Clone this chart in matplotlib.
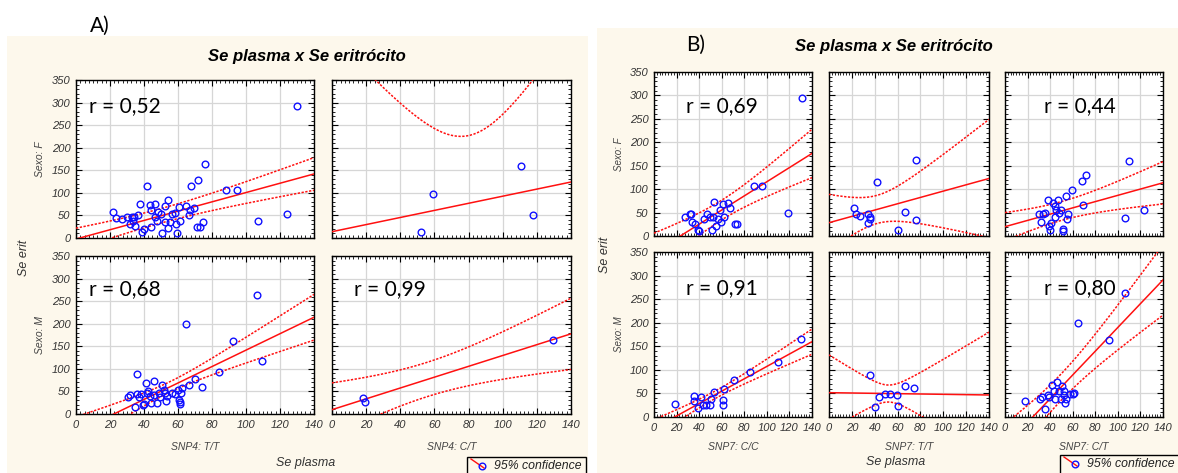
import numpy as np
import matplotlib.pyplot as plt
from matplotlib.patches import Rectangle
from matplotlib.lines import Line2D
from matplotlib.ticker import MultipleLocator

W, H = 1178, 473
cream = '#fdf8ec'

# ---- data (Se plasma, Se eritrocito) ----
# A) SNP4
a_tt_f_x = [21.8, 23.8, 27.0, 30.0, 31.6, 32.7, 33.8, 34.4, 34.9, 36.7, 37.8, 38.9, 40.0, 41.6, 43.3, 44.4, 44.4,
            46.7, 46.7, 47.8, 48.2, 50.0, 50.4, 52.2, 52.2, 54.0, 54.4, 55.5, 56.2, 58.4, 58.9, 59.6, 60.7, 61.3,
            65.0, 66.7, 67.3, 67.8, 69.3, 71.0, 71.6, 72.9, 75.0, 75.6, 88.4, 94.9, 106.9, 124.2, 129.8]
a_tt_f_y = [58.6, 44, 41.5, 46, 30, 46, 38.5, 47, 27, 50, 75, 12.6, 20, 116, 73, 62, 24,
            76, 46, 38.5, 58.6, 53, 11, 71, 35, 85, 21.5, 35, 53, 55, 31, 11, 68, 38,
            70, 50, 63, 116, 66, 24, 129, 24, 35, 163, 106, 106, 38, 54, 293.5]
a_ct_f_x = [52.0, 59.4, 111.0, 117.9]
a_ct_f_y = [14, 98, 159, 50]
a_tt_m_x = [30.7, 31.8, 34.9, 35.6, 36.0, 37.3, 38.4, 39.6, 40.0, 41.1, 41.8, 42.4, 43.3, 44.4, 45.6, 46.0, 47.8,
            48.9, 49.6, 50.4, 51.8, 52.2, 52.9, 53.3, 56.7, 58.4, 60.0, 60.7, 60.9, 61.6, 61.1, 62.2, 64.9, 66.2,
            70.2, 74.4, 84.4, 92.4, 106.4, 109.6]
a_tt_m_y = [37, 42.9, 14.8, 44, 89.6, 37, 44, 19, 22, 68.8, 46.6, 51.8, 39, 24, 43, 74, 24,
            46.6, 37, 65, 54, 46.6, 29.6, 40.7, 46.6, 44, 54, 31.8, 22, 46.6, 26.6, 57.7, 199.9, 65,
            78.5, 60.7, 94, 162.8, 262.8, 117]
a_ct_m_x = [18.2, 19.3, 129.4]
a_ct_m_y = [34.8, 27.4, 165]

# B) SNP7
b_cc_f_x = [27.7, 31.7, 32.7, 34.0, 36.7, 39.0, 40.0, 44.3, 46.7, 49.3, 51.0, 52.3, 53.0, 55.0, 56.7, 58.3, 59.3,
            60.7, 61.7, 65.7, 67.7, 71.7, 73.3, 89.0, 95.7, 118.3, 130.7]
b_cc_f_y = [41, 46, 47.5, 30.5, 24.8, 12.8, 10.6, 36, 46, 41, 12.8, 41, 71.7, 21.3, 36, 55.4, 30.5,
            67.4, 39.7, 70.3, 60.3, 24.8, 25.5, 107, 107, 49.7, 294.5]
b_tt_f_x = [21.7, 23.7, 27.0, 34.5, 35.5, 34.5, 36.2, 42.1, 60.2, 66.8, 75.7, 75.7]
b_tt_f_y = [59, 46, 43.3, 46, 41, 27, 35.5, 116, 12.8, 51, 163, 34.8]
b_ct_f_x = [30.2, 31.8, 33.4, 35.4, 37.7, 39.3, 40.0, 41.0, 42.8, 43.9, 44.6, 45.0, 46.6, 47.5, 49.2, 51.5, 51.8,
            54.0, 55.0, 55.7, 59.0, 67.9, 69.2, 71.8, 106.6, 110.2, 123.6]
b_ct_f_y = [46, 30.5, 46, 49.7, 76.6, 22, 12.8, 27, 71, 64, 41, 55, 76.6, 49.7, 55, 15, 11.4,
            86, 36, 48, 98, 117, 66, 130, 39, 159.7, 55.4]
b_cc_m_x = [19.0, 35.7, 35.7, 41.7, 39.3, 43.3, 46.0, 49.3, 50.7, 53.0, 61.0, 61.3, 62.3, 70.7, 85.0, 110.3, 130.0]
b_cc_m_y = [27.6, 44.6, 34.7, 42.4, 19, 25.5, 25.5, 25.5, 37.5, 53, 35.4, 25.5, 58.7, 77.8, 95.5, 116.7, 166]
b_tt_m_x = [35.5, 40.1, 44.0, 49.3, 53.3, 59.2, 60.5, 66.1, 74.3]
b_tt_m_y = [89, 21.2, 43, 48, 48, 46.7, 23.3, 65.8, 60.8]
b_ct_m_x = [18.0, 31.1, 32.8, 35.4, 37.7, 39.3, 41.6, 43.3, 44.3, 45.9, 47.5, 49.2, 50.8, 52.5, 52.5, 53.4, 54.0,
            57.4, 60.0, 60.7, 64.6, 91.8, 105.9]
b_ct_m_y = [34.7, 37.5, 43, 16.3, 46.7, 43, 68, 55, 39, 74, 55, 39, 65.8, 55, 46.7, 30.4, 39,
            48, 48, 51.6, 199.4, 162.7, 262.4]

# regression line (intercept, slope) and 95% band (centre, min half width, spread)
a_fits = [(-2.3, 1.03, 50, 16, 0.36), (14, 0.786, 80, 150, 5.1),
          (-40.5, 1.82, 55, 11.5, 0.58), (9.6, 1.2, 55.6, 38, 0.82)]
b_fits = [(-35.2, 1.51, 60, 21, 0.59), (28.4, 0.674, 42, 30, 1.25), (19.9, 0.669, 50, 20, 0.45),
          (-24, 1.313, 55, 8, 0.30), (51.6, -0.035, 52, 18, 1.5), (-62, 2.52, 50, 28, 0.77)]
a_r = ['r = 0,52', '', 'r = 0,68', 'r = 0,99']
b_r = ['r = 0,69', '', 'r = 0,44', 'r = 0,91', '', 'r = 0,80']
a_cols = ['SNP4: T/T', 'SNP4: C/T']
b_cols = ['SNP7: C/C', 'SNP7: T/T', 'SNP7: C/T']
rows = ['Sexo: F', 'Sexo: M']

fig = plt.figure(figsize=(W / 100, H / 100), dpi=100)
fig.patch.set_facecolor('white')


def fx(x):
    return x / W


def fy(y):
    return 1 - y / H


def add_ax(x0, x1, y0, y1):
    return fig.add_axes([fx(x0), fy(y1), (x1 - x0) / W, (y1 - y0) / H])


def draw(ax, xs, ys, fit, rtxt, rx, ry, show_x, show_y):
    b0, b1, xc, h0, k = fit
    xx = np.linspace(0, 140, 300)
    yy = b0 + b1 * xx
    hw = np.sqrt(h0 ** 2 + (k * (xx - xc)) ** 2)
    ax.plot(xx, yy, color='#ff1010', lw=1.1, zorder=3)
    ax.plot(xx, yy + hw, color='#ff1010', lw=1.1, ls=(0, (1.5, 1)), zorder=3)
    ax.plot(xx, yy - hw, color='#ff1010', lw=1.1, ls=(0, (1.5, 1)), zorder=3)
    ax.plot(xs, ys, 'o', mfc='none', mec='#1010ff', ms=4.8, mew=1.0, zorder=4)
    if rtxt:
        ax.text(rx, ry, rtxt, family='Lato', fontsize=15, ha='left', va='center', zorder=5)
    ax.set_xlim(0, 140)
    ax.set_ylim(0, 350)
    ax.xaxis.set_major_locator(MultipleLocator(20))
    ax.yaxis.set_major_locator(MultipleLocator(50))
    ax.xaxis.set_minor_locator(MultipleLocator(2.5))
    ax.yaxis.set_minor_locator(MultipleLocator(10))
    ax.grid(True, color='#d6d6d6', lw=0.9)
    ax.set_axisbelow(True)
    ax.tick_params(which='both', direction='in', top=True, right=True, colors='black',
                   labelcolor='#333333', labelsize=8, pad=4)
    ax.tick_params(which='major', length=4, width=0.8)
    ax.tick_params(which='minor', length=2, width=0.6)
    for s in ax.spines.values():
        s.set_linewidth(1.0)
    if not show_x:
        ax.set_xticklabels([])
    if not show_y:
        ax.set_yticklabels([])
    for lbl in ax.get_xticklabels() + ax.get_yticklabels():
        lbl.set_style('italic')
        lbl.set_family('Liberation Sans')


# cream panels
fig.patches.append(Rectangle((fx(7), 0), fx(588) - fx(7), fy(36), transform=fig.transFigure,
                             facecolor=cream, edgecolor='none', zorder=-10))
fig.patches.append(Rectangle((fx(597), 0), 1 - fx(597), fy(28), transform=fig.transFigure,
                             facecolor=cream, edgecolor='none', zorder=-10))

# ---- panel A ----
a_data = [(a_tt_f_x, a_tt_f_y), (a_ct_f_x, a_ct_f_y), (a_tt_m_x, a_tt_m_y), (a_ct_m_x, a_ct_m_y)]
a_rpos = [(7.8, 292), (0, 0), (7.8, 277), (12.6, 277)]
a_xs = [(76, 314), (332, 571)]
a_ys = [(80, 238), (256, 414)]
for i in range(4):
    r, c = divmod(i, 2)
    ax = add_ax(a_xs[c][0], a_xs[c][1], a_ys[r][0], a_ys[r][1])
    draw(ax, a_data[i][0], a_data[i][1], a_fits[i], a_r[i], a_rpos[i][0], a_rpos[i][1], r == 1, c == 0)

fig.text(fx(100), fy(26), 'A)', family='Lato', fontsize=15, ha='center', va='center')
fig.text(fx(307), fy(57), 'Se plasma x Se eritrócito', family='Liberation Sans', fontsize=12,
         weight='bold', style='italic', ha='center', va='center')
for r in range(2):
    fig.text(fx(40), fy((a_ys[r][0] + a_ys[r][1]) / 2), rows[r], family='Liberation Sans', fontsize=7.5,
             style='italic', color='#444444', rotation=90, ha='center', va='center')
fig.text(fx(24), fy(258), 'Se erit', family='Liberation Sans', fontsize=9, style='italic',
         color='#333333', rotation=90, ha='center', va='center')
for c in range(2):
    fig.text(fx((a_xs[c][0] + a_xs[c][1]) / 2), fy(447), a_cols[c], family='Liberation Sans', fontsize=7.5,
             style='italic', color='#444444', ha='center', va='center')
fig.text(fx(306), fy(463), 'Se plasma', family='Liberation Sans', fontsize=9, style='italic',
         color='#333333', ha='center', va='center')

# ---- panel B ----
b_data = [(b_cc_f_x, b_cc_f_y), (b_tt_f_x, b_tt_f_y), (b_ct_f_x, b_ct_f_y),
          (b_cc_m_x, b_cc_m_y), (b_tt_m_x, b_tt_m_y), (b_ct_m_x, b_ct_m_y)]
b_rpos = [(28, 277), (0, 0), (34.4, 277), (28, 274), (0, 0), (34.4, 274)]
b_xs = [(654, 812), (829, 989), (1005, 1163)]
b_ys = [(72, 236), (252, 417)]
for i in range(6):
    r, c = divmod(i, 3)
    ax = add_ax(b_xs[c][0], b_xs[c][1], b_ys[r][0], b_ys[r][1])
    draw(ax, b_data[i][0], b_data[i][1], b_fits[i], b_r[i], b_rpos[i][0], b_rpos[i][1], r == 1, c == 0)

fig.text(fx(696), fy(45), 'B)', family='Lato', fontsize=15, ha='center', va='center')
fig.text(fx(894), fy(47), 'Se plasma x Se eritrócito', family='Liberation Sans', fontsize=12,
         weight='bold', style='italic', ha='center', va='center')
for r in range(2):
    fig.text(fx(619), fy((b_ys[r][0] + b_ys[r][1]) / 2), rows[r], family='Liberation Sans', fontsize=7,
             style='italic', color='#444444', rotation=90, ha='center', va='center')
fig.text(fx(605), fy(255), 'Se erit', family='Liberation Sans', fontsize=9, style='italic',
         color='#333333', rotation=90, ha='center', va='center')
for c in range(3):
    fig.text(fx((b_xs[c][0] + b_xs[c][1]) / 2), fy(447), b_cols[c], family='Liberation Sans', fontsize=7.5,
             style='italic', color='#444444', ha='center', va='center')
fig.text(fx(896), fy(462), 'Se plasma', family='Liberation Sans', fontsize=9, style='italic',
         color='#333333', ha='center', va='center')

# ---- legends ----
for lx, rx_, ty in [(467, 586, 457), (1060, 1185, 455)]:
    fig.patches.append(Rectangle((fx(lx), fy(ty + 30)), fx(rx_) - fx(lx), fy(ty) - fy(ty + 30),
                                 transform=fig.transFigure, facecolor=cream, edgecolor='black', lw=1.0, zorder=2))
    fig.lines.append(Line2D([fx(lx + 4), fx(lx + 17)], [fy(ty + 2), fy(ty + 11)], transform=fig.transFigure,
                            color='#ff1010', lw=1.0, zorder=3))
    fig.lines.append(Line2D([fx(lx + 15)], [fy(ty + 9)], transform=fig.transFigure, marker='o',
                            mfc='none', mec='#1010ff', ms=4.8, mew=1.0, zorder=4))
    fig.text(fx(lx + 27), fy(ty + 9), '95% confidence', family='Liberation Sans', fontsize=8.8,
             style='italic', color='#222222', ha='left', va='center', zorder=5)

plt.savefig('out.png', dpi=100)
